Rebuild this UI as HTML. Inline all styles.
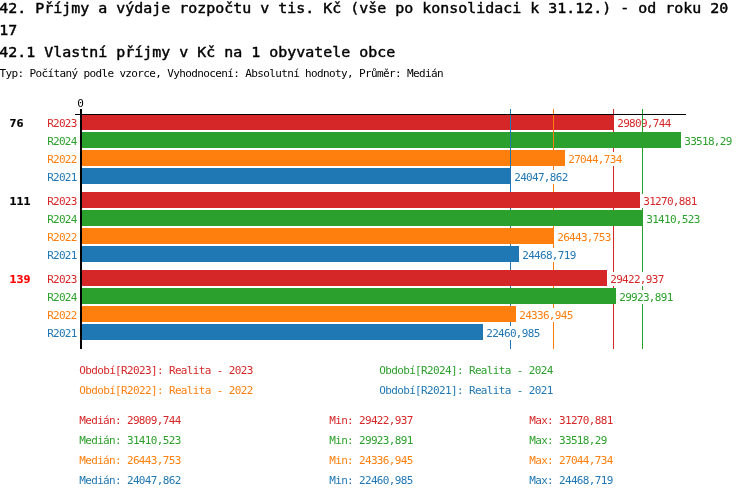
<!DOCTYPE html>
<html lang="cs"><head><meta charset="utf-8"><title>42.1 Vlastní příjmy v Kč na 1 obyvatele obce</title>
<style>
html,body{margin:0;padding:0;background:#fff;}
body{width:750px;height:498px;overflow:hidden;}
svg{display:block;}
text{white-space:pre;}
.b{font-family:"DejaVu Sans Mono","Liberation Mono",monospace;font-size:13.5px;fill:#000;stroke:#000;stroke-width:0.4px;}
.s{font-family:"DejaVu Sans Mono","Liberation Mono",monospace;font-size:11px;}
.m{font-family:"DejaVu Sans Mono","Liberation Mono",monospace;font-weight:bold;font-size:11px;stroke-width:0.2px;}
</style></head><body>
<svg width="750" height="498" viewBox="0 0 750 498" shape-rendering="crispEdges" xml:space="preserve">
<rect x="0" y="0" width="750" height="498" fill="#fff"/>
<text class="b" x="-0.8" y="13" textLength="729" lengthAdjust="spacingAndGlyphs">42. Příjmy a výdaje rozpočtu v tis. Kč (vše po konsolidaci k 31.12.) - od roku 20</text>
<text class="b" x="-0.8" y="35" textLength="18" lengthAdjust="spacingAndGlyphs">17</text>
<text class="b" x="-0.8" y="57" textLength="396" lengthAdjust="spacingAndGlyphs">42.1 Vlastní příjmy v Kč na 1 obyvatele obce</text>
<text class="s" transform="translate(-0.45 77) scale(1.0 1)" fill="#000" textLength="444.00" lengthAdjust="spacing">Typ: Počítaný podle vzorce, Vyhodnocení: Absolutní hodnoty, Průměr: Medián</text>
<text class="s" transform="translate(77.25 107) scale(1.0 1)" fill="#000" textLength="6.00" lengthAdjust="spacing">0</text>
<rect x="613" y="109" width="1" height="240" fill="#d62728"/>
<rect x="82" y="114" width="532" height="16" fill="#d62728"/>
<rect x="615" y="116" width="58" height="14" fill="#fff"/>
<text class="s" transform="translate(617.25 127) scale(1.0 1)" fill="#d62728" textLength="54.00" lengthAdjust="spacing">29809,744</text>
<rect x="642" y="109" width="1" height="240" fill="#2ca02c"/>
<rect x="82" y="132" width="599" height="16" fill="#2ca02c"/>
<rect x="682" y="134" width="52" height="14" fill="#fff"/>
<text class="s" transform="translate(684.25 145) scale(1.0 1)" fill="#2ca02c" textLength="48.00" lengthAdjust="spacing">33518,29</text>
<rect x="553" y="109" width="1" height="240" fill="#ff7f0e"/>
<rect x="82" y="150" width="483" height="16" fill="#ff7f0e"/>
<rect x="566" y="152" width="58" height="14" fill="#fff"/>
<text class="s" transform="translate(568.25 163) scale(1.0 1)" fill="#ff7f0e" textLength="54.00" lengthAdjust="spacing">27044,734</text>
<rect x="510" y="109" width="1" height="240" fill="#1f77b4"/>
<rect x="82" y="168" width="429" height="16" fill="#1f77b4"/>
<rect x="512" y="170" width="58" height="14" fill="#fff"/>
<text class="s" transform="translate(514.25 181) scale(1.0 1)" fill="#1f77b4" textLength="54.00" lengthAdjust="spacing">24047,862</text>
<rect x="82" y="192" width="558" height="16" fill="#d62728"/>
<rect x="641" y="194" width="58" height="14" fill="#fff"/>
<text class="s" transform="translate(643.25 205) scale(1.0 1)" fill="#d62728" textLength="54.00" lengthAdjust="spacing">31270,881</text>
<rect x="82" y="210" width="561" height="16" fill="#2ca02c"/>
<rect x="644" y="212" width="58" height="14" fill="#fff"/>
<text class="s" transform="translate(646.25 223) scale(1.0 1)" fill="#2ca02c" textLength="54.00" lengthAdjust="spacing">31410,523</text>
<rect x="82" y="228" width="472" height="16" fill="#ff7f0e"/>
<rect x="555" y="230" width="58" height="14" fill="#fff"/>
<text class="s" transform="translate(557.25 241) scale(1.0 1)" fill="#ff7f0e" textLength="54.00" lengthAdjust="spacing">26443,753</text>
<rect x="82" y="246" width="437" height="16" fill="#1f77b4"/>
<rect x="520" y="248" width="58" height="14" fill="#fff"/>
<text class="s" transform="translate(522.25 259) scale(1.0 1)" fill="#1f77b4" textLength="54.00" lengthAdjust="spacing">24468,719</text>
<rect x="82" y="270" width="525" height="16" fill="#d62728"/>
<rect x="608" y="272" width="58" height="14" fill="#fff"/>
<text class="s" transform="translate(610.25 283) scale(1.0 1)" fill="#d62728" textLength="54.00" lengthAdjust="spacing">29422,937</text>
<rect x="82" y="288" width="534" height="16" fill="#2ca02c"/>
<rect x="617" y="290" width="58" height="14" fill="#fff"/>
<text class="s" transform="translate(619.25 301) scale(1.0 1)" fill="#2ca02c" textLength="54.00" lengthAdjust="spacing">29923,891</text>
<rect x="82" y="306" width="434" height="16" fill="#ff7f0e"/>
<rect x="517" y="308" width="58" height="14" fill="#fff"/>
<text class="s" transform="translate(519.25 319) scale(1.0 1)" fill="#ff7f0e" textLength="54.00" lengthAdjust="spacing">24336,945</text>
<rect x="82" y="324" width="401" height="16" fill="#1f77b4"/>
<rect x="484" y="326" width="58" height="14" fill="#fff"/>
<text class="s" transform="translate(486.25 337) scale(1.0 1)" fill="#1f77b4" textLength="54.00" lengthAdjust="spacing">22460,985</text>
<rect x="80" y="109" width="2" height="240" fill="#000"/>
<rect x="75" y="114" width="611" height="1" fill="#000"/>
<text class="m" x="9.5" y="127" fill="#000" stroke="#000" textLength="14" lengthAdjust="spacingAndGlyphs">76</text>
<text class="s" transform="translate(47.25 127) scale(1.0 1)" fill="#d62728" textLength="30.00" lengthAdjust="spacing">R2023</text>
<text class="s" transform="translate(47.25 145) scale(1.0 1)" fill="#2ca02c" textLength="30.00" lengthAdjust="spacing">R2024</text>
<text class="s" transform="translate(47.25 163) scale(1.0 1)" fill="#ff7f0e" textLength="30.00" lengthAdjust="spacing">R2022</text>
<text class="s" transform="translate(47.25 181) scale(1.0 1)" fill="#1f77b4" textLength="30.00" lengthAdjust="spacing">R2021</text>
<text class="m" x="9.5" y="205" fill="#000" stroke="#000" textLength="21" lengthAdjust="spacingAndGlyphs">111</text>
<text class="s" transform="translate(47.25 205) scale(1.0 1)" fill="#d62728" textLength="30.00" lengthAdjust="spacing">R2023</text>
<text class="s" transform="translate(47.25 223) scale(1.0 1)" fill="#2ca02c" textLength="30.00" lengthAdjust="spacing">R2024</text>
<text class="s" transform="translate(47.25 241) scale(1.0 1)" fill="#ff7f0e" textLength="30.00" lengthAdjust="spacing">R2022</text>
<text class="s" transform="translate(47.25 259) scale(1.0 1)" fill="#1f77b4" textLength="30.00" lengthAdjust="spacing">R2021</text>
<text class="m" x="9.5" y="283" fill="#ff0000" stroke="#ff0000" textLength="21" lengthAdjust="spacingAndGlyphs">139</text>
<text class="s" transform="translate(47.25 283) scale(1.0 1)" fill="#d62728" textLength="30.00" lengthAdjust="spacing">R2023</text>
<text class="s" transform="translate(47.25 301) scale(1.0 1)" fill="#2ca02c" textLength="30.00" lengthAdjust="spacing">R2024</text>
<text class="s" transform="translate(47.25 319) scale(1.0 1)" fill="#ff7f0e" textLength="30.00" lengthAdjust="spacing">R2022</text>
<text class="s" transform="translate(47.25 337) scale(1.0 1)" fill="#1f77b4" textLength="30.00" lengthAdjust="spacing">R2021</text>
<text class="s" transform="translate(79.25 374) scale(1.0 1)" fill="#d62728" textLength="174.00" lengthAdjust="spacing">Období[R2023]: Realita - 2023</text>
<text class="s" transform="translate(379.25 374) scale(1.0 1)" fill="#2ca02c" textLength="174.00" lengthAdjust="spacing">Období[R2024]: Realita - 2024</text>
<text class="s" transform="translate(79.25 394) scale(1.0 1)" fill="#ff7f0e" textLength="174.00" lengthAdjust="spacing">Období[R2022]: Realita - 2022</text>
<text class="s" transform="translate(379.25 394) scale(1.0 1)" fill="#1f77b4" textLength="174.00" lengthAdjust="spacing">Období[R2021]: Realita - 2021</text>
<text class="s" transform="translate(79.25 424) scale(1.0 1)" fill="#d62728" textLength="102.00" lengthAdjust="spacing">Medián: 29809,744</text>
<text class="s" transform="translate(329.25 424) scale(1.0 1)" fill="#d62728" textLength="84.00" lengthAdjust="spacing">Min: 29422,937</text>
<text class="s" transform="translate(529.25 424) scale(1.0 1)" fill="#d62728" textLength="84.00" lengthAdjust="spacing">Max: 31270,881</text>
<text class="s" transform="translate(79.25 444) scale(1.0 1)" fill="#2ca02c" textLength="102.00" lengthAdjust="spacing">Medián: 31410,523</text>
<text class="s" transform="translate(329.25 444) scale(1.0 1)" fill="#2ca02c" textLength="84.00" lengthAdjust="spacing">Min: 29923,891</text>
<text class="s" transform="translate(529.25 444) scale(1.0 1)" fill="#2ca02c" textLength="78.00" lengthAdjust="spacing">Max: 33518,29</text>
<text class="s" transform="translate(79.25 464) scale(1.0 1)" fill="#ff7f0e" textLength="102.00" lengthAdjust="spacing">Medián: 26443,753</text>
<text class="s" transform="translate(329.25 464) scale(1.0 1)" fill="#ff7f0e" textLength="84.00" lengthAdjust="spacing">Min: 24336,945</text>
<text class="s" transform="translate(529.25 464) scale(1.0 1)" fill="#ff7f0e" textLength="84.00" lengthAdjust="spacing">Max: 27044,734</text>
<text class="s" transform="translate(79.25 484) scale(1.0 1)" fill="#1f77b4" textLength="102.00" lengthAdjust="spacing">Medián: 24047,862</text>
<text class="s" transform="translate(329.25 484) scale(1.0 1)" fill="#1f77b4" textLength="84.00" lengthAdjust="spacing">Min: 22460,985</text>
<text class="s" transform="translate(529.25 484) scale(1.0 1)" fill="#1f77b4" textLength="84.00" lengthAdjust="spacing">Max: 24468,719</text>
</svg>
</body></html>
